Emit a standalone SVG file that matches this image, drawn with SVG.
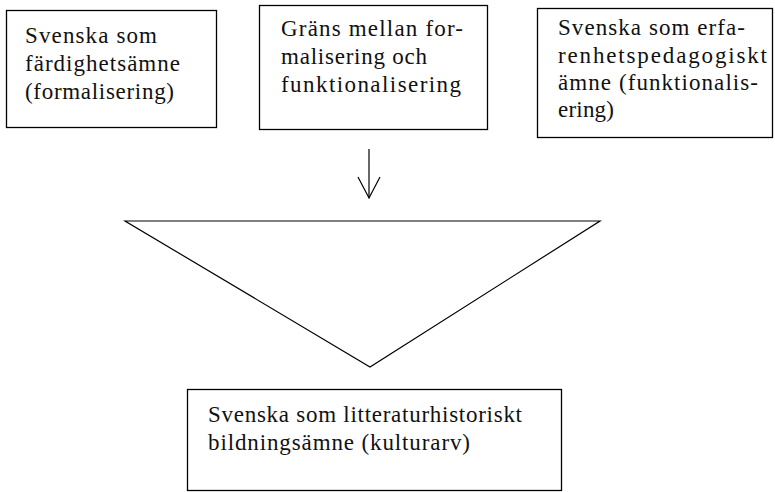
<svg xmlns="http://www.w3.org/2000/svg" width="775" height="492" viewBox="0 0 775 492">
<style>
.box{fill:#fff;stroke:#000;stroke-width:1.3}
.t{font-family:"Liberation Serif","Times New Roman",serif;font-size:23px;fill:#111}
.ln{fill:none;stroke:#000;stroke-width:1.2}
</style>
<rect width="775" height="492" fill="#fff"/>
<g id="box1">
<rect class="box" x="6.5" y="10.5" width="210" height="117"/>
<text class="t" x="25" y="43" textLength="132" lengthAdjust="spacing">Svenska som</text>
<text class="t" x="25" y="71" textLength="155" lengthAdjust="spacing">färdighetsämne</text>
<text class="t" x="25" y="99" textLength="149" lengthAdjust="spacing">(formalisering)</text>
</g>
<g id="box2">
<rect class="box" x="259.5" y="5.5" width="228" height="124"/>
<text class="t" x="281" y="36" textLength="182" lengthAdjust="spacing">Gräns mellan for-</text>
<text class="t" x="281" y="64" textLength="146" lengthAdjust="spacing">malisering och</text>
<text class="t" x="281" y="92" textLength="180" lengthAdjust="spacing">funktionalisering</text>
</g>
<g id="box3">
<rect class="box" x="537.5" y="8.5" width="235" height="129"/>
<text class="t" x="558" y="35" textLength="187" lengthAdjust="spacing">Svenska som erfa-</text>
<text class="t" x="558" y="63" textLength="209" lengthAdjust="spacing">renhetspedagogiskt</text>
<text class="t" x="558" y="90" textLength="200" lengthAdjust="spacing">ämne (funktionalis-</text>
<text class="t" x="558" y="117" textLength="56" lengthAdjust="spacing">ering)</text>
</g>
<g id="triangle">
<polygon class="ln" points="125,221 600,221 370,367"/>
</g>
<g id="box4">
<rect class="box" x="187.5" y="389.5" width="374" height="101"/>
<text class="t" x="208" y="422" textLength="314" lengthAdjust="spacing">Svenska som litteraturhistoriskt</text>
<text class="t" x="208" y="450" textLength="262" lengthAdjust="spacing">bildningsämne (kulturarv)</text>
</g>
<g id="connectors">
<line class="ln" x1="369" y1="149" x2="369" y2="198"/>
<polyline class="ln" points="358,177 369,198 380,177"/>
</g>
</svg>
